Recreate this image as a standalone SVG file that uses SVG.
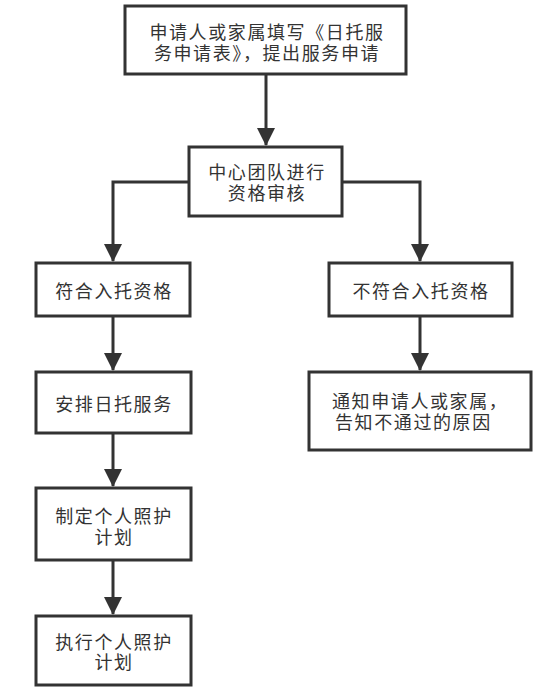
<svg xmlns="http://www.w3.org/2000/svg" width="546" height="691" viewBox="0 0 546 691">
<style>
.box{fill:#fff;stroke:#333;stroke-width:3}
.t{font-family:"Noto Sans CJK SC","Noto Sans",sans-serif;font-size:18px;letter-spacing:1.6px;fill:#333;text-anchor:middle}
.s{text-anchor:start}
.c{fill:none;stroke:#333;stroke-width:3}
</style>
<defs>
<marker id="ah" markerUnits="userSpaceOnUse" markerWidth="18" markerHeight="18" viewBox="0 0 18 18" refX="17" refY="9" orient="auto">
<path d="M0,0 L18,9 L0,18 Z" fill="#333"/>
</marker>
</defs>
<rect width="546" height="691" fill="#fff"/>
<g id="connectors">
<path class="c" d="M266,75 V145" marker-end="url(#ah)"/>
<path class="c" d="M190,182 H113 V261" marker-end="url(#ah)"/>
<path class="c" d="M342,182 H420 V261" marker-end="url(#ah)"/>
<path class="c" d="M113,316 V370" marker-end="url(#ah)"/>
<path class="c" d="M420,316 V370" marker-end="url(#ah)"/>
<path class="c" d="M113,433 V486" marker-end="url(#ah)"/>
<path class="c" d="M113,560 V614" marker-end="url(#ah)"/>
</g>
<g id="n1">
<rect class="box" x="125" y="6" width="281" height="68"/>
<text class="t"><tspan x="267" y="39">申请人或家属填写《日托服</tspan><tspan x="267" y="60">务申请表》，提出服务申请</tspan></text>
</g>
<g id="n2">
<rect class="box" x="189" y="147" width="153" height="69"/>
<text class="t"><tspan x="267" y="179">中心团队进行</tspan><tspan x="267" y="200">资格审核</tspan></text>
</g>
<g id="n3">
<rect class="box" x="36" y="263" width="154" height="53"/>
<text class="t" x="114" y="298">符合入托资格</text>
</g>
<g id="n4">
<rect class="box" x="329" y="263" width="183" height="53"/>
<text class="t" x="421" y="298">不符合入托资格</text>
</g>
<g id="n5">
<rect class="box" x="36" y="372" width="155" height="61"/>
<text class="t" x="114" y="411">安排日托服务</text>
</g>
<g id="n6">
<rect class="box" x="309" y="372" width="222" height="78"/>
<text class="t s"><tspan x="332" y="408">通知申请人或家属，</tspan><tspan x="335" y="429">告知不通过的原因</tspan></text>
</g>
<g id="n7">
<rect class="box" x="36" y="488" width="155" height="72"/>
<text class="t"><tspan x="114" y="523">制定个人照护</tspan><tspan x="114" y="544">计划</tspan></text>
</g>
<g id="n8">
<rect class="box" x="36" y="616" width="155" height="69"/>
<text class="t"><tspan x="114" y="649">执行个人照护</tspan><tspan x="114" y="669">计划</tspan></text>
</g>
</svg>
